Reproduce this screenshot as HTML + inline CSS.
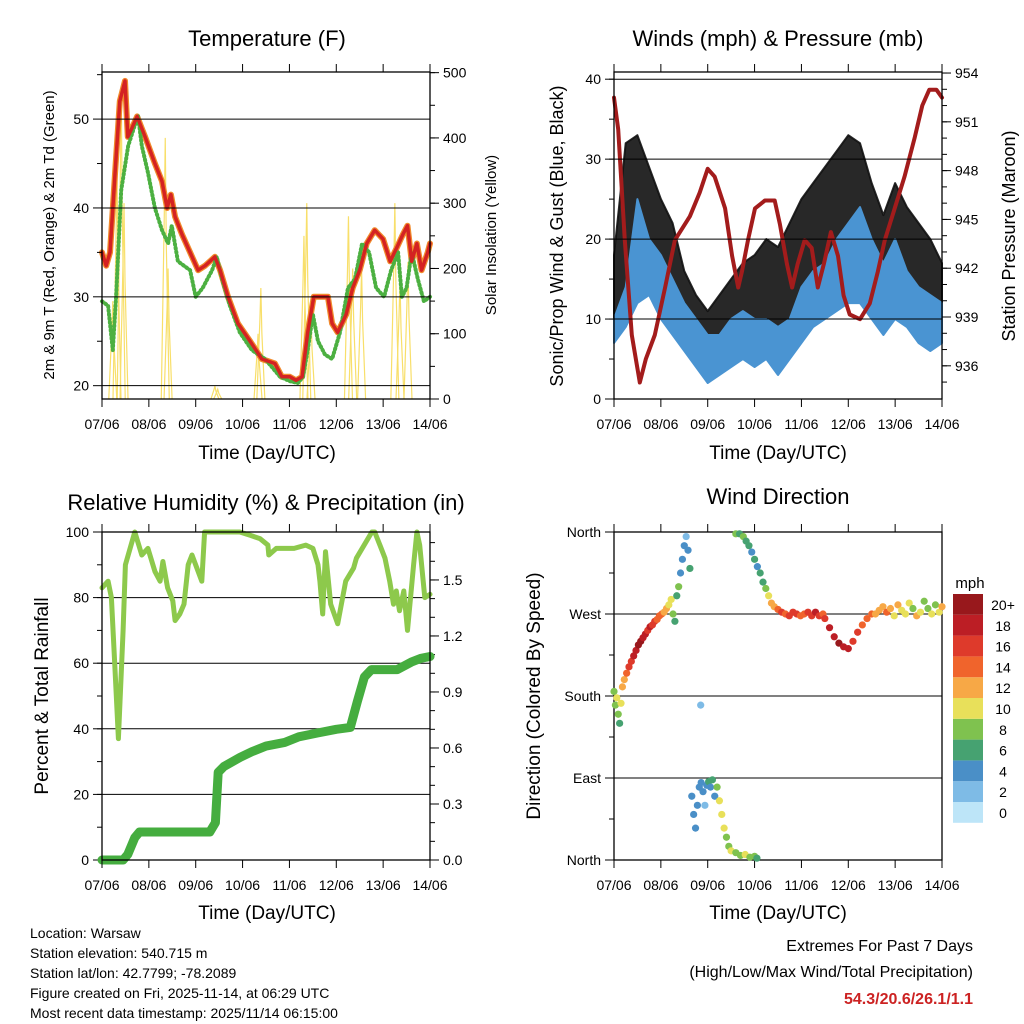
<!DOCTYPE html>
<html><head><meta charset="utf-8"><style>
body{margin:0;background:#fff;width:1024px;height:1024px;overflow:hidden}
svg{display:block;font-family:"Liberation Sans",sans-serif}
</style></head><body>
<svg id="chart" width="1024" height="1024" viewBox="0 0 1024 1024">
<g id="layer"></g>
</svg>
<script>
// ---------- Temperature data (day offset, value) ----------
const tRedDays=[0,0.09,0.17,0.28,0.38,0.49,0.55,0.64,0.75,0.92,1.13,1.28,1.39,1.47,1.56,1.71,1.88,2.05,2.2,2.41,2.52,2.69,2.9,3.16,3.41,3.69,3.84,4.01,4.14,4.27,4.39,4.52,4.82,4.91,5.03,5.21,5.35,5.5,5.65,5.82,6.0,6.15,6.29,6.42,6.52,6.61,6.72,6.82,6.95,7.0];
const tRedVals=[35,33.5,35,44,52,54.3,48,49,50.3,48,45,43,40,41.5,39,37,35,33,33.5,34.5,33,30,27,25,23,22.5,21,21,20.6,21,26,30,30,27,26,28,31,33,36,37.5,36.5,34,35.5,37,38,34,36,33,35,36];
const tGrnDays=[0,0.13,0.23,0.3,0.41,0.56,0.68,0.77,0.85,0.98,1.13,1.28,1.41,1.49,1.62,1.88,2.0,2.15,2.35,2.45,2.56,2.73,2.94,3.2,3.48,3.8,4.01,4.18,4.29,4.39,4.5,4.61,4.76,4.91,5.08,5.25,5.4,5.55,5.7,5.85,6.02,6.17,6.32,6.4,6.5,6.61,6.74,6.87,7.0];
const tGrnVals=[29.5,29,24,30,42,47,49,50.3,47,44,40,37.5,36,38,34,33,30,31,33,34.5,32,29,26,24,23,21,20.5,20.3,21,24,28,25,23.5,23,26,31,32,36,35,31,30,33,35,30,31,35,32,29.5,30];
const solarDays=[0.23,0.32,0.41,0.47,1.35,1.41,2.41,2.47,3.33,3.39,4.31,4.37,4.46,5.26,5.35,5.54,6.25,6.36,6.53];
const solarVals=[150,350,480,300,400,200,20,15,100,170,250,300,130,280,200,200,300,180,210];
// ---------- Wind / pressure data ----------
const presDays=[0,0.09,0.23,0.38,0.55,0.68,0.87,1.09,1.3,1.62,1.83,2.0,2.15,2.37,2.52,2.65,2.73,2.86,3.01,3.22,3.43,3.54,3.69,3.8,3.92,4.07,4.22,4.35,4.48,4.63,4.78,4.9,5.03,5.25,5.46,5.63,5.78,5.99,6.2,6.42,6.58,6.73,6.88,7.0];
const presVals=[953,951,944,938,935,936.5,938,941,944,945.5,947,948.5,948,946,943,941,942,944,946,946.5,946.5,945,942.5,941,942.5,944,943.5,941,942.5,944.5,943,940.5,939.3,939,940,942,944,946,948,950.5,952.5,953.5,953.5,953];
const windDays=[0,0.25,0.5,0.75,1,1.25,1.5,1.75,2,2.25,2.5,2.75,3,3.25,3.5,3.75,4,4.25,4.5,4.75,5,5.25,5.5,5.75,6,6.25,6.5,6.75,7];
const sonicLo=[7,9,12,13,10,8,6,4,2,3,4,5,4,5,3,5,7,9,10,11,12,12,10,8,10,9,7,6,7];
const sonicHi=[10,14,25,20,18,15,12,10,8,8,10,11,10,10,9,10,14,16,17,20,22,24,20,17,20,16,14,13,12];
const gustLo=[8,12,15,17,14,10,7,5,4,6,8,9,8,10,8,10,12,13,15,15,17,18,15,12,14,12,10,10,10];
const gustHi=[18,32,33,29,25,22,16,13,11,13,15,17,18,20,19,22,25,27,29,31,33,32,27,23,27,24,22,20,17];
// ---------- RH / precip ----------
const rhDays=[0,0.13,0.2,0.27,0.35,0.45,0.5,0.7,0.85,0.98,1.13,1.24,1.3,1.4,1.51,1.56,1.66,1.75,1.84,1.92,2.13,2.19,2.94,3.16,3.37,3.54,3.56,3.72,4.1,4.35,4.5,4.61,4.65,4.71,4.77,4.88,5.03,5.2,5.37,5.43,5.76,5.82,5.93,6.04,6.14,6.22,6.28,6.35,6.44,6.52,6.65,6.72,6.78,6.89,7.0];
const rhVals=[83,85,80,60,37,70,90,100,93,95,88,85,91,83,79,73,75,78,90,93,85,100,100,99,98,96,93,95,95,96,95,90,85,75,94,78,72,85,89,92,100,100,96,92,85,78,82,76,82,70,90,100,96,80,81];
const prDays=[0,0.45,0.55,0.7,0.8,2.3,2.42,2.48,2.6,2.95,3.2,3.5,3.9,4.2,4.6,5.0,5.3,5.45,5.6,5.75,6.3,6.6,6.8,7.0];
const prVals=[0,0,0.03,0.12,0.15,0.15,0.2,0.47,0.5,0.55,0.58,0.61,0.63,0.66,0.68,0.7,0.71,0.85,0.98,1.02,1.02,1.06,1.08,1.09];
// ---------- Wind direction (day, degrees, mph) ----------
const wdDays=[0,0.03,0.06,0.09,0.12,0.15,0.18,0.22,0.27,0.32,0.37,0.42,0.47,0.52,0.57,0.62,0.67,0.72,0.77,0.82,0.87,0.92,0.97,1.02,1.07,1.12,1.17,1.22,1.26,1.3,1.34,1.38,1.42,1.46,1.5,1.54,1.58,1.62,1.85,1.66,1.7,1.74,1.78,1.82,1.86,1.9,1.94,1.98,2.02,2.06,2.1,2.15,2.2,2.25,2.3,2.35,2.4,2.45,2.5,2.6,2.7,2.8,2.9,3.0,3.05,2.6,2.68,2.76,2.82,2.88,2.94,3.0,3.06,3.12,3.18,3.24,3.3,3.36,3.42,3.5,3.58,3.66,3.74,3.82,3.9,3.98,4.06,4.14,4.22,4.3,4.38,4.46,4.5,4.6,4.7,4.8,4.9,5.0,5.1,5.2,5.3,5.4,5.5,5.58,5.66,5.74,5.82,5.9,5.98,6.06,6.14,6.22,6.3,6.38,6.46,6.54,6.62,6.7,6.78,6.86,6.94,7.0];
const wdDeg=[185,170,178,160,150,172,190,198,205,212,218,224,230,236,240,244,248,252,256,258,262,264,268,270,272,276,280,286,270,262,290,300,315,330,345,355,340,320,170,70,50,35,60,80,85,75,60,82,86,80,88,70,80,65,50,35,25,15,10,8,5,6,3,4,2,358,358,355,350,345,338,330,322,315,305,298,290,282,278,275,272,270,268,272,270,268,270,272,268,272,268,270,265,255,245,238,234,232,240,250,258,265,270,270,274,278,272,276,268,280,274,270,282,276,268,272,284,276,270,280,272,278];
const wdSpd=[7,8,10,8,6,10,12,11,14,15,16,17,18,19,20,18,17,16,17,16,15,14,14,13,12,11,10,9,7,6,5,8,4,3,4,2,3,5,2,3,4,4,3,4,4,3,2,4,5,4,6,4,8,10,9,10,8,7,9,8,7,9,8,7,6,7,6,8,6,5,4,5,4,5,6,8,9,11,12,14,15,14,15,16,15,14,13,15,16,17,15,14,15,17,18,19,18,17,16,15,14,13,14,12,11,12,13,11,10,12,10,9,10,8,11,9,8,7,10,8,9,11,8];
const speedColors=["#bde5f8","#7ebbe6","#4a8fc7","#46a271","#7fc24f","#e8e05a","#f7a846","#f0642c","#de3a2b","#bc1e25","#98181c"];
const speedLabels=["0","2","4","6","8","10","12","14","16","18","20+"];

const NS="http://www.w3.org/2000/svg";
const layer=document.getElementById('layer');
function el(tag,attrs,parent){const e=document.createElementNS(NS,tag);for(const k in attrs)e.setAttribute(k,attrs[k]);(parent||layer).appendChild(e);return e;}
function txt(s,x,y,size,anchor,parent,extra){const t=el('text',Object.assign({x:x,y:y,'font-size':size,'text-anchor':anchor||'middle',fill:'#000'},extra||{}),parent);t.textContent=s;return t;}

const xLabels=["07/06","08/06","09/06","10/06","11/06","12/06","13/06","14/06"];
function panel(name,P){
  const g=el('g',{});
  
  
  P.g=g;
  P.x=d=>P.x0+d*(P.x1-P.x0)/7;
  return g;
}
function frame(P,labelY){
  const g=P.g;
  const fr=el('rect',{x:P.x0,y:P.y0,width:P.x1-P.x0,height:P.y1-P.y0,fill:'none',stroke:'#000','stroke-width':1.3},g);
  
  
  for(let i=0;i<8;i++){
    const x=P.x(i);
    el('line',{x1:x,x2:x,y1:P.y1,y2:P.y1+8,stroke:'#000','stroke-width':1},g);
    el('line',{x1:x,x2:x,y1:P.y0,y2:P.y0-8,stroke:'#000','stroke-width':1},g);
    const t=txt(xLabels[i],x,labelY,14,'middle',g);
    
    
  }
}
function yAxis(P,side,vmin,vmax,majors,labels,minors,grid){
  const g=P.g;const ys=v=>P.y1-(v-vmin)/(vmax-vmin)*(P.y1-P.y0);
  const xa=side==='left'?P.x0:P.x1, dir=side==='left'?-1:1;
  minors.forEach(v=>{const y=ys(v);el('line',{x1:xa,x2:xa+dir*5,y1:y,y2:y,stroke:'#000','stroke-width':1},g);});
  majors.forEach((v,i)=>{const y=ys(v);
    el('line',{x1:xa,x2:xa+dir*9,y1:y,y2:y,stroke:'#000','stroke-width':1},g);
    if(grid) el('line',{x1:P.x0,x2:P.x1,y1:y,y2:y,stroke:'#000','stroke-width':1},g);
    const t=txt(labels[i],xa+dir*13,y+5,14,side==='left'?'end':'start',g);
    
    
  });
  return ys;
}
function line(P,days,vals,ys,attrs,name){
  const pts=days.map((d,i)=>P.x(d).toFixed(1)+','+ys(vals[i]).toFixed(1)).join(' ');
  const p=el('polyline',Object.assign({points:pts,fill:'none','stroke-linejoin':'round','stroke-linecap':'round'},attrs),P.g);
  
  
  return p;
}
function band(P,days,lo,hi,ys,fill,name,op){
  const a=days.map((d,i)=>P.x(d).toFixed(1)+','+ys(hi[i]).toFixed(1));
  const b=days.map((d,i)=>P.x(d).toFixed(1)+','+ys(lo[i]).toFixed(1)).reverse();
  const p=el('polygon',{points:a.concat(b).join(' '),fill:fill,stroke:fill,'stroke-width':2,'stroke-linejoin':'round','fill-opacity':op||1,'stroke-opacity':op||1},P.g);
  
  
}
function range(a,b,s){const r=[];for(let v=a;v<=b+1e-9;v+=s)r.push(+v.toFixed(3));return r;}

// ===== Panel 1: Temperature =====
const P1={x0:102,x1:430,y0:72,y1:399};
panel('temperature-panel',P1);
const yT=v=>P1.y1-(v-18.5)/(55.3-18.5)*(P1.y1-P1.y0);
const yS=v=>P1.y1-v/501*(P1.y1-P1.y0);
solarDays.forEach((d,i)=>{
  const x=P1.x(d),w=4;
  const s=el('polyline',{points:(x-w)+','+yS(0)+' '+(x-1)+','+yS(solarVals[i]*0.7)+' '+x+','+yS(solarVals[i])+' '+(x+1)+','+yS(solarVals[i]*0.6)+' '+(x+w)+','+yS(0),fill:'none',stroke:'#f8df6a','stroke-width':1.2},P1.g);
  
  
});
line(P1,tRedDays,tRedVals,yT,{stroke:'#f08a2c','stroke-width':6},'9m-temperature-line');
line(P1,tGrnDays,tGrnVals,yT,{stroke:'#4cb041','stroke-width':4,'stroke-dasharray':'1 3'},'dewpoint-line');
line(P1,tRedDays,tRedVals,yT,{stroke:'#d42222','stroke-width':3.5},'2m-temperature-line');
[20,30,40,50].forEach(v=>{el('line',{x1:P1.x0,x2:P1.x1,y1:yT(v),y2:yT(v),stroke:'#000','stroke-width':1},P1.g);});
[20,25,30,35,40,45,50,55].forEach(v=>{el('line',{x1:P1.x0,x2:P1.x0-(v%10?5:9),y1:yT(v),y2:yT(v),stroke:'#000'},P1.g);});
[20,30,40,50].forEach(v=>{const t=txt(String(v),89,yT(v)+5,14,'end',P1.g);});
yAxis(P1,'right',0,501,[0,100,200,300,400,500],['0','100','200','300','400','500'],range(0,500,50),false);
frame(P1,429);

// ===== Panel 2: Winds & Pressure =====
const P2={x0:614,x1:942,y0:72,y1:399};
panel('winds-pressure-panel',P2);
const yW=v=>P2.y1-v/40.9*(P2.y1-P2.y0);
const yP=v=>366.7-(v-936)*15.83;
band(P2,windDays,gustLo,gustHi,yW,'#111','gust-scatter',0.9);
band(P2,windDays,sonicLo,sonicHi,yW,'#4a94d2','sonic-wind');
line(P2,presDays,presVals,yP,{stroke:'#a31c1c','stroke-width':4},'pressure-line');
yAxis(P2,'left',0,40.9,[0,10,20,30,40],['0','10','20','30','40'],range(0,40,5),true);
yAxis(P2,'right',936-(399-366.7)/15.83,954+1/15.83,[936,939,942,945,948,951,954],['936','939','942','945','948','951','954'],range(935,954,1),false);
frame(P2,429);

// ===== Panel 3: RH & Precip =====
const P3={x0:102,x1:430,y0:532,y1:860};
panel('humidity-precip-panel',P3);
const yR=v=>P3.y1-v/100*(P3.y1-P3.y0);
const yPr=v=>860-v*186.7;
yAxis(P3,'left',0,100,[0,20,40,60,80,100],['0','20','40','60','80','100'],range(0,100,10),true);
yAxis(P3,'right',0,328/186.7,[0,0.3,0.6,0.9,1.2,1.5],['0.0','0.3','0.6','0.9','1.2','1.5'],range(0,1.7,0.1),false);
line(P3,rhDays,rhVals,yR,{stroke:'#8dc94c','stroke-width':5},'relative-humidity-line');
line(P3,prDays,prVals,yPr,{stroke:'#45ad3f','stroke-width':9},'precipitation-line');
frame(P3,890);

// ===== Panel 4: Wind direction =====
const P4={x0:614,x1:942,y0:532,y1:860};
panel('wind-direction-panel',P4);
const yD=v=>P4.y1-v/360*(P4.y1-P4.y0);
yAxis(P4,'left',0,360,[0,90,180,270,360],['North','East','South','West','North'],range(0,360,45),true);
frame(P4,890);
wdDays.forEach((d,i)=>{
  const ci=Math.max(0,Math.min(10,Math.round(wdSpd[i]/2)));
  const c=el('circle',{cx:P4.x(d),cy:yD(wdDeg[i]),r:3.6,fill:speedColors[ci]},P4.g);
  
  
});
const cb=el('g',{});


txt('mph',970,588,15,'middle',cb);
for(let i=0;i<11;i++){
  const y=594+(10-i)*20.8;
  el('rect',{x:953,y:y,width:30,height:20.8,fill:speedColors[i]},cb);
  txt(speedLabels[i],1003,y+16,14,'middle',cb);
}

// ===== Titles and labels =====
const labels=el('g',{});


txt('Temperature (F)',267,46,22,'middle',labels);
txt('Winds (mph) & Pressure (mb)',778,46,22,'middle',labels);
txt('Relative Humidity (%) & Precipitation (in)',266,510,22,'middle',labels);
txt('Wind Direction',778,504,22,'middle',labels);
txt('Time (Day/UTC)',267,459,19,'middle',labels);
txt('Time (Day/UTC)',778,459,19,'middle',labels);
txt('Time (Day/UTC)',267,919,19,'middle',labels);
txt('Time (Day/UTC)',778,919,19,'middle',labels);
txt('2m & 9m T (Red, Orange) & 2m Td (Green)',0,0,15,'middle',labels,{transform:'translate(54,235) rotate(-90)'});
txt('Solar Insolation (Yellow)',0,0,15,'middle',labels,{transform:'translate(496,235) rotate(-90)'});
txt('Sonic/Prop Wind & Gust (Blue, Black)',0,0,18,'middle',labels,{transform:'translate(563,236) rotate(-90)'});
txt('Station Pressure (Maroon)',0,0,18,'middle',labels,{transform:'translate(1015,236) rotate(-90)'});
txt('Percent & Total Rainfall',0,0,19,'middle',labels,{transform:'translate(48,696) rotate(-90)'});
txt('Direction (Colored By Speed)',0,0,19,'middle',labels,{transform:'translate(540,696) rotate(-90)'});
['Location: Warsaw','Station elevation: 540.715 m','Station lat/lon: 42.7799; -78.2089','Figure created on Fri, 2025-11-14, at 06:29 UTC','Most recent data timestamp: 2025/11/14 06:15:00'].forEach((s,i)=>{
  const t=txt(s,30,938+i*20,14,'start',labels);
  
  
});
txt('Extremes For Past 7 Days',973,951,16,'end',labels);
txt('(High/Low/Max Wind/Total Precipitation)',973,977,16,'end',labels);
txt('54.3/20.6/26.1/1.1',973,1004,16,'end',labels,{fill:'#cc2222','font-weight':'bold'});
</script>
</body></html>
